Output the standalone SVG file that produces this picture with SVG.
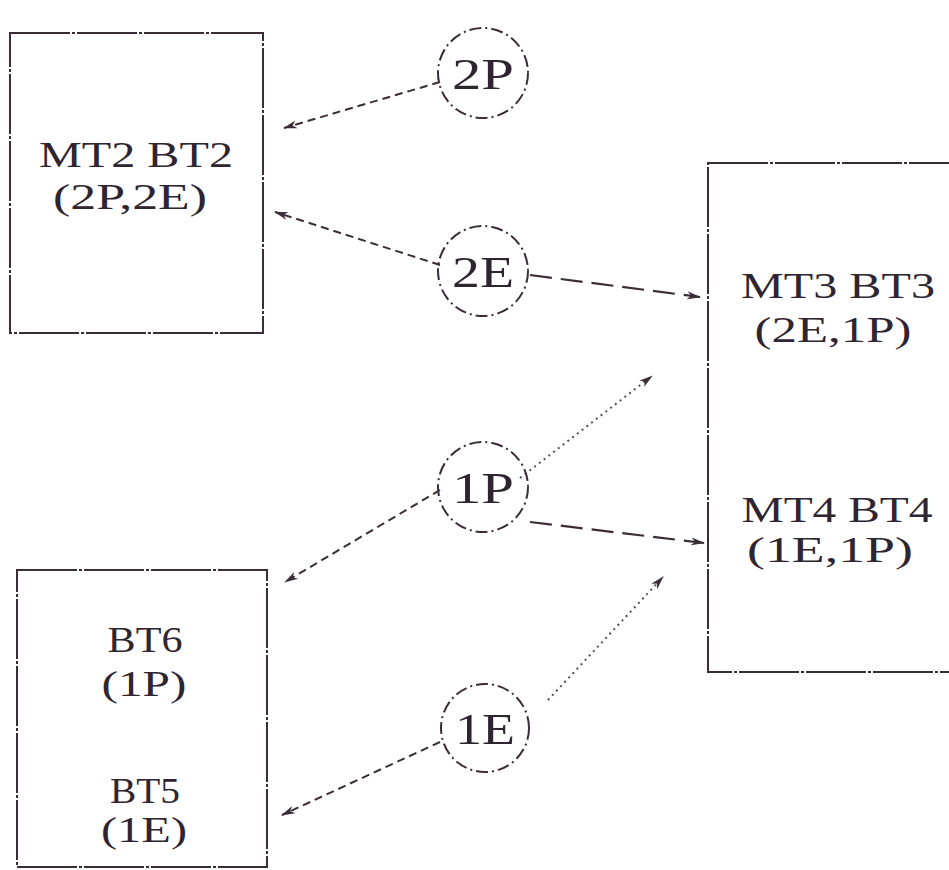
<svg xmlns="http://www.w3.org/2000/svg" width="949" height="870" viewBox="0 0 949 870">
<defs>
<style>
.box{fill:none;stroke:#3b2d38;stroke-width:2;stroke-dasharray:60 2 3 2}
.circ{fill:none;stroke:#3b2d38;stroke-width:2;stroke-dasharray:12 4 2 4}
.lbl{font-family:"Liberation Serif","DejaVu Serif",serif;fill:#2e2530;text-anchor:middle;font-size:36px}
.cl{font-size:44px}
.dash{fill:none;stroke:#3b2d38;stroke-width:2;stroke-dasharray:8 5}
.long{fill:none;stroke:#3b2d38;stroke-width:2.2;stroke-dasharray:22 9}
.dot{fill:none;stroke:#5a4c58;stroke-width:2;stroke-dasharray:2 4}
</style>
<marker id="ah" viewBox="0 0 14 10" refX="13" refY="5" markerWidth="14" markerHeight="10" markerUnits="userSpaceOnUse" orient="auto">
<path d="M0,1 L14,5 L0,9 L4,5 Z" fill="#3b2d38"/>
</marker>
</defs>
<rect width="949" height="870" fill="#ffffff"/>
<g id="connectors">
<line class="dash" x1="440" y1="82" x2="284" y2="128" marker-end="url(#ah)"/>
<line class="dash" x1="440" y1="265" x2="275" y2="212" marker-end="url(#ah)"/>
<line class="long" x1="530" y1="275" x2="700" y2="297" marker-end="url(#ah)"/>
<line class="dot" x1="520" y1="478" x2="652" y2="376" marker-end="url(#ah)"/>
<line class="dash" x1="440" y1="490" x2="285" y2="582" marker-end="url(#ah)"/>
<line class="long" x1="530" y1="522" x2="704" y2="543" marker-end="url(#ah)"/>
<line class="dot" x1="548" y1="700" x2="663" y2="577" marker-end="url(#ah)"/>
<line class="dash" x1="440" y1="742" x2="282" y2="815" marker-end="url(#ah)"/>
</g>
<g id="n-mt2">
<rect class="box" x="10" y="33" width="253" height="300"/>
<text class="lbl" x="136" y="167" textLength="194" lengthAdjust="spacingAndGlyphs">MT2 BT2</text>
<text class="lbl" x="130" y="209" textLength="154" lengthAdjust="spacingAndGlyphs">(2P,2E)</text>
</g>
<g id="n-mt3">
<rect class="box" x="708" y="163" width="260" height="509"/>
<text class="lbl" x="838" y="298" textLength="194" lengthAdjust="spacingAndGlyphs">MT3 BT3</text>
<text class="lbl" x="833" y="342" textLength="157" lengthAdjust="spacingAndGlyphs">(2E,1P)</text>
<text class="lbl" x="837" y="522" textLength="191" lengthAdjust="spacingAndGlyphs">MT4 BT4</text>
<text class="lbl" x="830" y="562" textLength="166" lengthAdjust="spacingAndGlyphs">(1E,1P)</text>
</g>
<g id="n-bt6">
<rect class="box" x="17" y="570" width="250" height="297"/>
<text class="lbl" x="145" y="652" textLength="75" lengthAdjust="spacingAndGlyphs">BT6</text>
<text class="lbl" x="144" y="696" textLength="85" lengthAdjust="spacingAndGlyphs">(1P)</text>
<text class="lbl" x="145" y="803" textLength="70" lengthAdjust="spacingAndGlyphs">BT5</text>
<text class="lbl" x="144" y="842" textLength="86" lengthAdjust="spacingAndGlyphs">(1E)</text>
</g>
<g id="c-2p">
<ellipse class="circ" cx="483" cy="73" rx="45" ry="45"/>
<text class="lbl cl" x="483" y="89" textLength="62" lengthAdjust="spacingAndGlyphs">2P</text>
</g>
<g id="c-2e">
<ellipse class="circ" cx="483" cy="271" rx="45" ry="45"/>
<text class="lbl cl" x="483" y="287" textLength="62" lengthAdjust="spacingAndGlyphs">2E</text>
</g>
<g id="c-1p">
<ellipse class="circ" cx="483" cy="487" rx="45" ry="45"/>
<text class="lbl cl" x="483" y="503" textLength="62" lengthAdjust="spacingAndGlyphs">1P</text>
</g>
<g id="c-1e">
<ellipse class="circ" cx="485" cy="728" rx="44" ry="44"/>
<text class="lbl cl" x="485" y="744" textLength="60" lengthAdjust="spacingAndGlyphs">1E</text>
</g>
</svg>
